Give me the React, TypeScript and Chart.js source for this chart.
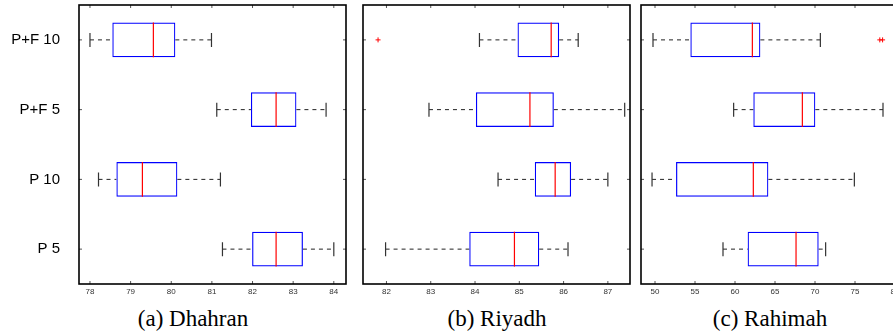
import React, { useEffect, useRef } from "react";
import { Chart, registerables } from "chart.js";

Chart.register(...registerables);

const CATEGORIES = ["P+F 10", "P+F 5", "P 10", "P 5"];

// Dhahran
const DHAHRAN_LOW = [78.0, 81.12, 78.21, 81.26];
const DHAHRAN_Q1 = [78.55, 81.96, 78.65, 81.99];
const DHAHRAN_MED = [79.56, 82.58, 79.29, 82.58];
const DHAHRAN_Q3 = [80.1, 83.08, 80.15, 83.24];
const DHAHRAN_HIGH = [80.99, 83.81, 81.21, 84.0];
const DHAHRAN_OUTLIERS: number[][] = [[], [], [], []];
const DHAHRAN_TICKS = [78, 79, 80, 81, 82, 83, 84];

// Riyadh
const RIYADH_LOW = [84.1, 82.96, 84.52, 81.98];
const RIYADH_Q1 = [84.96, 84.02, 85.35, 83.87];
const RIYADH_MED = [85.72, 85.24, 85.81, 84.89];
const RIYADH_Q3 = [85.9, 85.78, 86.17, 85.45];
const RIYADH_HIGH = [86.33, 87.38, 87.0, 86.1];
const RIYADH_OUTLIERS: number[][] = [[81.81], [], [], []];
const RIYADH_TICKS = [82, 83, 84, 85, 86, 87];

// Rahimah
const RAHIMAH_LOW = [49.75, 59.83, 49.63, 58.5];
const RAHIMAH_Q1 = [54.42, 62.29, 52.63, 61.58];
const RAHIMAH_MED = [62.17, 68.42, 62.29, 67.63];
const RAHIMAH_Q3 = [63.17, 70.04, 64.17, 70.46];
const RAHIMAH_HIGH = [70.67, 78.5, 74.92, 71.33];
const RAHIMAH_OUTLIERS: number[][] = [[78.1, 78.45], [], [], []];
const RAHIMAH_TICKS = [50, 55, 60, 65, 70, 75, 80];

type Stats = {
  low: number[];
  q1: number[];
  med: number[];
  q3: number[];
  high: number[];
  outliers: number[][];
};

function makeBoxPlugin(st: Stats) {
  return {
    id: "boxDecor",
    afterDatasetsDraw(chart: any) {
      const { ctx, chartArea, scales } = chart;
      const xs = scales.x;
      const ys = scales.y;
      const meta = chart.getDatasetMeta(0);
      ctx.save();
      meta.data.forEach((bar: any, i: number) => {
        const yc = bar.y;
        const h = bar.height;
        const p = (v: number) => xs.getPixelForValue(v);
        // whiskers
        ctx.strokeStyle = "#222";
        ctx.lineWidth = 1;
        ctx.setLineDash([4, 4]);
        ctx.beginPath();
        ctx.moveTo(p(st.low[i]), yc);
        ctx.lineTo(p(st.q1[i]), yc);
        ctx.moveTo(p(st.q3[i]), yc);
        ctx.lineTo(p(st.high[i]), yc);
        ctx.stroke();
        ctx.setLineDash([]);
        // caps
        ctx.strokeStyle = "#333";
        ctx.lineWidth = 1.2;
        ctx.beginPath();
        ctx.moveTo(p(st.low[i]), yc - 7);
        ctx.lineTo(p(st.low[i]), yc + 7);
        ctx.moveTo(p(st.high[i]), yc - 7);
        ctx.lineTo(p(st.high[i]), yc + 7);
        ctx.stroke();
        // median
        ctx.strokeStyle = "#ff0000";
        ctx.lineWidth = 1.2;
        ctx.beginPath();
        ctx.moveTo(p(st.med[i]), yc - h / 2);
        ctx.lineTo(p(st.med[i]), yc + h / 2);
        ctx.stroke();
        // outliers
        ctx.lineWidth = 1;
        st.outliers[i].forEach((v) => {
          const ox = p(v);
          ctx.beginPath();
          ctx.moveTo(ox - 2.5, yc);
          ctx.lineTo(ox + 2.5, yc);
          ctx.moveTo(ox, yc - 2.5);
          ctx.lineTo(ox, yc + 2.5);
          ctx.stroke();
        });
      });
      // ticks inside
      ctx.strokeStyle = "#555";
      ctx.lineWidth = 1;
      ctx.beginPath();
      xs.ticks.forEach((t: any) => {
        const px = xs.getPixelForValue(t.value);
        ctx.moveTo(px, chartArea.bottom);
        ctx.lineTo(px, chartArea.bottom - 3);
        ctx.moveTo(px, chartArea.top);
        ctx.lineTo(px, chartArea.top + 3);
      });
      CATEGORIES.forEach((_, i) => {
        const py = ys.getPixelForValue(i);
        ctx.moveTo(chartArea.left, py);
        ctx.lineTo(chartArea.left + 3, py);
        ctx.moveTo(chartArea.right, py);
        ctx.lineTo(chartArea.right - 3, py);
      });
      ctx.stroke();
      // frame
      ctx.strokeStyle = "#000";
      ctx.lineWidth = 1.6;
      ctx.strokeRect(
        chartArea.left,
        chartArea.top,
        chartArea.right - chartArea.left,
        chartArea.bottom - chartArea.top
      );
      ctx.restore();
    },
  };
}

type PanelProps = {
  left: number;
  width: number;
  yWidth: number;
  padRight: number;
  min: number;
  max: number;
  ticks: number[];
  showLabels: boolean;
  stats: Stats;
};

function Panel(props: PanelProps) {
  const ref = useRef<HTMLCanvasElement>(null);
  useEffect(() => {
    const { stats, ticks } = props;
    const chart = new Chart(ref.current as HTMLCanvasElement, {
      type: "bar",
      data: {
        labels: CATEGORIES,
        datasets: [
          {
            data: stats.q1.map((a, i) => [a, stats.q3[i]]) as any,
            backgroundColor: "rgba(0,0,0,0)",
            borderColor: "#0000ff",
            borderWidth: 1.2,
            borderSkipped: false,
            barPercentage: 0.5,
            categoryPercentage: 1,
          },
        ],
      },
      options: {
        indexAxis: "y",
        responsive: false,
        animation: false,
        layout: { padding: { top: 5, right: props.padRight, left: 0, bottom: 0 } },
        plugins: { legend: { display: false }, tooltip: { enabled: false } },
        scales: {
          x: {
            type: "linear",
            min: props.min,
            max: props.max,
            grid: { display: false, drawTicks: false },
            border: { display: false },
            ticks: {
              font: { size: 8, family: "Liberation Sans" },
              color: "#333",
              padding: 3,
              maxRotation: 0,
              autoSkip: false,
            },
            afterBuildTicks: (s: any) => {
              s.ticks = ticks.map((v) => ({ value: v }));
            },
            afterFit: (s: any) => {
              s.height = 16;
              s.paddingLeft = 0;
              s.paddingRight = 0;
            },
          },
          y: {
            type: "category",
            grid: { display: false, drawTicks: false },
            border: { display: false },
            ticks: {
              display: props.showLabels,
              font: { size: 15, family: "Liberation Sans" },
              color: "#000",
              padding: 19,
            },
            afterFit: (s: any) => {
              s.width = props.yWidth;
              s.paddingTop = 0;
              s.paddingBottom = 0;
            },
          },
        },
      } as any,
      plugins: [makeBoxPlugin(stats)],
    });
    return () => chart.destroy();
  }, []);
  return (
    <canvas
      ref={ref}
      width={props.width}
      height={300}
      style={{ position: "absolute", left: props.left, top: 0, width: props.width, height: 300 }}
    />
  );
}

const titleStyle = (cx: number): React.CSSProperties => ({
  position: "absolute",
  left: cx - 100,
  width: 200,
  top: 307,
  textAlign: "center",
  fontFamily: "'Liberation Serif', serif",
  fontSize: 23,
  lineHeight: "24px",
  color: "#000",
});

export default function App() {
  return (
    <div
      style={{
        position: "fixed",
        left: 0,
        top: 0,
        width: 893,
        height: 335,
        overflow: "hidden",
        background: "#fff",
      }}
    >
      <Panel
        left={0}
        width={355}
        yWidth={79}
        padRight={9}
        min={77.73}
        max={84.3}
        ticks={DHAHRAN_TICKS}
        showLabels={true}
        stats={{
          low: DHAHRAN_LOW,
          q1: DHAHRAN_Q1,
          med: DHAHRAN_MED,
          q3: DHAHRAN_Q3,
          high: DHAHRAN_HIGH,
          outliers: DHAHRAN_OUTLIERS,
        }}
      />
      <Panel
        left={355}
        width={280}
        yWidth={8}
        padRight={5}
        min={81.47}
        max={87.5}
        ticks={RIYADH_TICKS}
        showLabels={false}
        stats={{
          low: RIYADH_LOW,
          q1: RIYADH_Q1,
          med: RIYADH_MED,
          q3: RIYADH_Q3,
          high: RIYADH_HIGH,
          outliers: RIYADH_OUTLIERS,
        }}
      />
      <Panel
        left={635}
        width={280}
        yWidth={6}
        padRight={6}
        min={48.25}
        max={81.75}
        ticks={RAHIMAH_TICKS}
        showLabels={false}
        stats={{
          low: RAHIMAH_LOW,
          q1: RAHIMAH_Q1,
          med: RAHIMAH_MED,
          q3: RAHIMAH_Q3,
          high: RAHIMAH_HIGH,
          outliers: RAHIMAH_OUTLIERS,
        }}
      />
      <div style={titleStyle(193)}>(a) Dhahran</div>
      <div style={titleStyle(497)}>(b) Riyadh</div>
      <div style={titleStyle(770)}>(c) Rahimah</div>
    </div>
  );
}
